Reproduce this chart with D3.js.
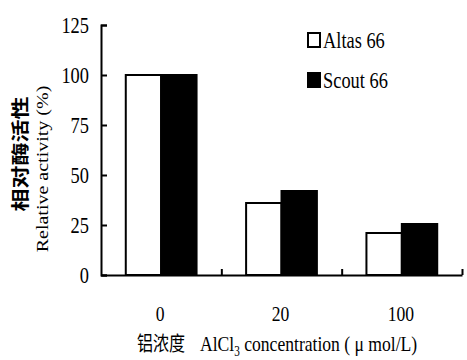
<!DOCTYPE html>
<html>
<head>
<meta charset="utf-8">
<script src="https://cdn.jsdelivr.net/npm/d3@7"></script>
<style>
  body { margin: 0; background: #fff; }
</style>
</head>
<body>
<div id="chart"></div>
<script>
// data
var concentrations = ['0', '20', '100'];
var seriesNames = ['Altas 66', 'Scout 66'];
var altas = [100, 36, 21];
var scout = [100, 42, 25.5];
var yTicks = [0, 25, 50, 75, 100, 125];
var seriesFill = ['#fff', '#000'];

var SERIF = '"Liberation Serif", "Times New Roman", serif';
var CJK = '"Noto Sans CJK SC", sans-serif';
var SQ = 0.8; // the scan is squeezed sideways, so is all the type

function main() {
  var model = { width: 467, height: 360 };

  var svg = d3.select('#chart').append('svg')
    .attr('width', model.width)
    .attr('height', model.height);

  var y = d3.scaleLinear()
    .domain([0, 125])
    .range([275, 25]);

  var x0 = d3.scaleBand()
    .domain(concentrations)
    .range([101, 462]);

  var x1 = d3.scaleBand()
    .domain(seriesNames)
    .range([0, x0.bandwidth()])
    .paddingInner(0)
    .paddingOuter(0.7);

  var rows = concentrations.map((c, i) => ({
    conc: c,
    values: [altas[i], scout[i]]
  }));

  // bars
  var groups = svg.selectAll('.group').data(rows)
    .join('g')
    .attr('class', 'group')
    .attr('transform', (d) => 'translate(' + x0(d.conc) + ',0)');

  groups.selectAll('rect')
    .data((d) => d.values.map((v, j) => ({ name: seriesNames[j], value: v, j: j })))
    .join('rect')
    .attr('x', (d) => x1(d.name))
    .attr('width', x1.bandwidth())
    .attr('y', (d) => y(d.value))
    .attr('height', (d) => y(0) - y(d.value))
    .attr('fill', (d) => seriesFill[d.j])
    .attr('stroke', '#000')
    .attr('stroke-width', 2);

  // y axis, ticks pointing inward
  var yAxis = svg.append('g')
    .attr('transform', 'translate(101,0)')
    .call(d3.axisLeft(y).tickValues(yTicks).tickSize(-6));
  yAxis.selectAll('path, line').attr('stroke', '#000').attr('stroke-width', 2);
  yAxis.selectAll('text')
    .attr('x', -12 / SQ)
    .attr('transform', 'scale(' + SQ + ',1)')
    .style('font-family', SERIF)
    .style('font-size', '23px')
    .attr('fill', '#000');

  // x axis: ticks at the category boundaries
  var xb = d3.scaleLinear().domain([0, concentrations.length]).range(x0.range());
  var xAxis = svg.append('g')
    .attr('transform', 'translate(0,' + y(0) + ')')
    .call(d3.axisBottom(xb).tickValues([1, 2, 3]).tickSize(-6).tickSizeOuter(0).tickFormat(''));
  xAxis.selectAll('path, line').attr('stroke', '#000').attr('stroke-width', 2);

  // category labels
  var xLabels = svg.append('g')
    .attr('transform', 'translate(-1,' + y(0) + ')')
    .call(d3.axisBottom(x0).tickSize(0));
  xLabels.select('.domain').remove();
  xLabels.selectAll('text')
    .attr('y', 46).attr('dy', null)
    .attr('transform', 'scale(' + SQ + ',1)')
    .style('font-family', SERIF)
    .style('font-size', '22px')
    .attr('fill', '#000');

  // x title
  svg.append('text')
    .attr('transform', 'translate(137,351) scale(' + SQ + ',1)')
    .style('font-family', CJK)
    .style('font-size', '20px')
    .text('铝浓度');

  var xt = svg.append('text')
    .attr('transform', 'translate(200,351) scale(' + SQ + ',1)')
    .style('font-family', SERIF)
    .style('font-size', '22px');
  xt.append('tspan').text('AlCl');
  xt.append('tspan').style('font-size', '14px').attr('dy', 5).text('3');
  xt.append('tspan').attr('dy', -5).text(' concentration ( \u03bc mol/L)');

  // y title
  svg.append('text')
    .attr('transform', 'translate(27,154) scale(' + SQ + ',1) rotate(-90)')
    .attr('text-anchor', 'middle')
    .style('font-family', CJK)
    .style('font-size', '23px')
    .style('font-weight', 'bold')
    .text('相对酶活性');

  svg.append('text')
    .attr('transform', 'translate(48,169) scale(' + SQ + ',1) rotate(-90)')
    .attr('text-anchor', 'middle')
    .style('font-family', SERIF)
    .style('font-size', '20px')
    .text('Relative activity (%)');

  // legend
  var legend = svg.selectAll('.legend').data(seriesNames)
    .join('g')
    .attr('class', 'legend')
    .attr('transform', (d, i) => 'translate(308,' + (33 + i * 40) + ')');

  legend.append('rect')
    .attr('width', 12)
    .attr('height', 14)
    .attr('fill', (d, i) => seriesFill[i])
    .attr('stroke', '#000')
    .attr('stroke-width', 2);

  legend.append('text')
    .attr('transform', 'translate(15,15) scale(' + SQ + ',1)')
    .style('font-family', SERIF)
    .style('font-size', '23px')
    .text((d) => d);
}

main();
</script>
</body>
</html>
